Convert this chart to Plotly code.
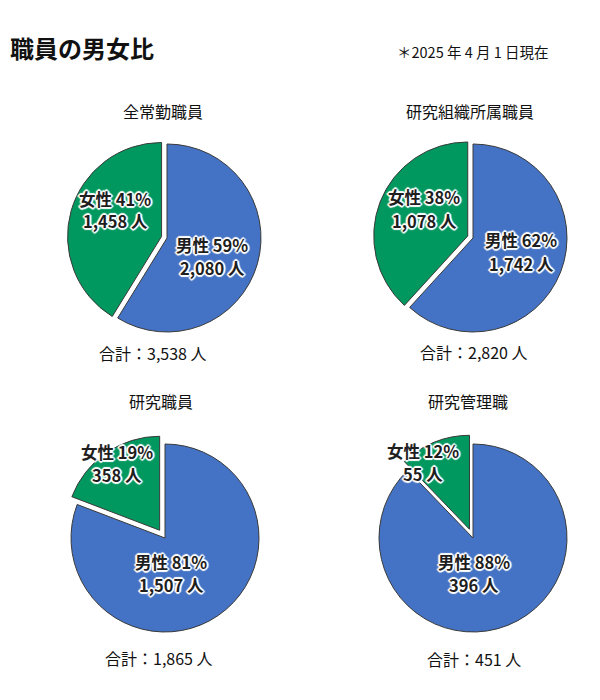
import plotly.graph_objects as go

# 2025年4月1日現在の職員数
groups = ["全常勤職員", "研究組織所属職員", "研究職員", "研究管理職"]
labels = ["男性", "女性"]
men = [2080, 1742, 1507, 396]
women = [1458, 1078, 358, 55]
men_pct = [59, 62, 81, 88]
women_pct = [41, 38, 19, 12]

FONT = "Noto Sans CJK JP"
BLUE = "#4472C4"
GREEN = "#00985F"
SHADOW = ("-2px 0 1px #fff, 2px 0 1px #fff, 0 -2px 1px #fff, 0 2px 1px #fff, "
          "-1px -1px 1px #fff, 1px 1px 1px #fff, -1px 1px 1px #fff, 1px -1px 1px #fff")

W, H = 600, 700
OFF = 8  # page margin of the browser; positions below are in screen px
R = 94
centers = [(167, 238), (473, 238), (165, 538), (473, 538)]
pulls = [0.06, 0.06, 0.1, 0.1]


def px(x):
    return (x - OFF) / W


def py(y):
    return 1 - (y - OFF) / H


fig = go.Figure()
for i, g in enumerate(groups):
    cx, cy = centers[i]
    half = R * (1 + pulls[i])
    fig.add_trace(go.Pie(
        labels=labels,
        values=[men[i], women[i]],
        textinfo="none",
        textposition="none",
        marker=dict(colors=[BLUE, GREEN], line=dict(color="#3a3a3a", width=1)),
        pull=[0, pulls[i]],
        sort=False,
        direction="clockwise",
        rotation=0,
        showlegend=False,
        hoverinfo="label+value+percent",
        domain=dict(x=[px(cx - half), px(cx + half)],
                    y=[py(cy + half), py(cy - half)]),
    ))

annotations = [
    dict(text="<b>職員の男女比</b>", x=px(OFF), y=py(47), xanchor="left",
         font=dict(size=24, color="#111")),
    dict(text="＊2025 年 4 月 1 日現在", x=px(551), y=py(52), xanchor="right",
         font=dict(size=14.5, color="#111")),
]

# label block centres (screen px): [male, female]
label_pos = [
    [(212, 256), (115, 210)],
    [(521, 252), (424, 209)],
    [(171, 573), (117, 463)],
    [(474, 573), (423, 462)],
]
LINE_GAP = 11.5
title_pos = [(163, 111), (470, 111), (161, 401), (468, 401)]
total_pos = [(153, 353), (474, 352), (159, 658), (474, 659)]

for i, g in enumerate(groups):
    annotations.append(dict(text=g, x=px(title_pos[i][0]), y=py(title_pos[i][1]),
                            font=dict(size=16, color="#111")))
    annotations.append(dict(text=f"合計：{men[i] + women[i]:,} 人",
                            x=px(total_pos[i][0]), y=py(total_pos[i][1]),
                            font=dict(size=16, color="#111")))
    vals = [(men_pct[i], men[i]), (women_pct[i], women[i])]
    for k, (pct, n) in enumerate(vals):
        lx, ly = label_pos[i][k]
        for line, dy in ((f"{labels[k]} {pct}%", -LINE_GAP), (f"{n:,} 人", LINE_GAP)):
            annotations.append(dict(
                text=f"<b>{line}</b>", x=px(lx), y=py(ly + dy),
                font=dict(size=16.5, color="#1e1e1e", shadow=SHADOW),
            ))

for a in annotations:
    a.update(xref="paper", yref="paper", showarrow=False, yanchor="middle")
    a.setdefault("xanchor", "center")
    a["font"]["family"] = FONT

fig.update_layout(
    width=W, height=H,
    margin=dict(l=0, r=0, t=0, b=0),
    paper_bgcolor="white",
    plot_bgcolor="white",
    annotations=annotations,
    font=dict(family=FONT),
)

fig.write_html("out.html")
